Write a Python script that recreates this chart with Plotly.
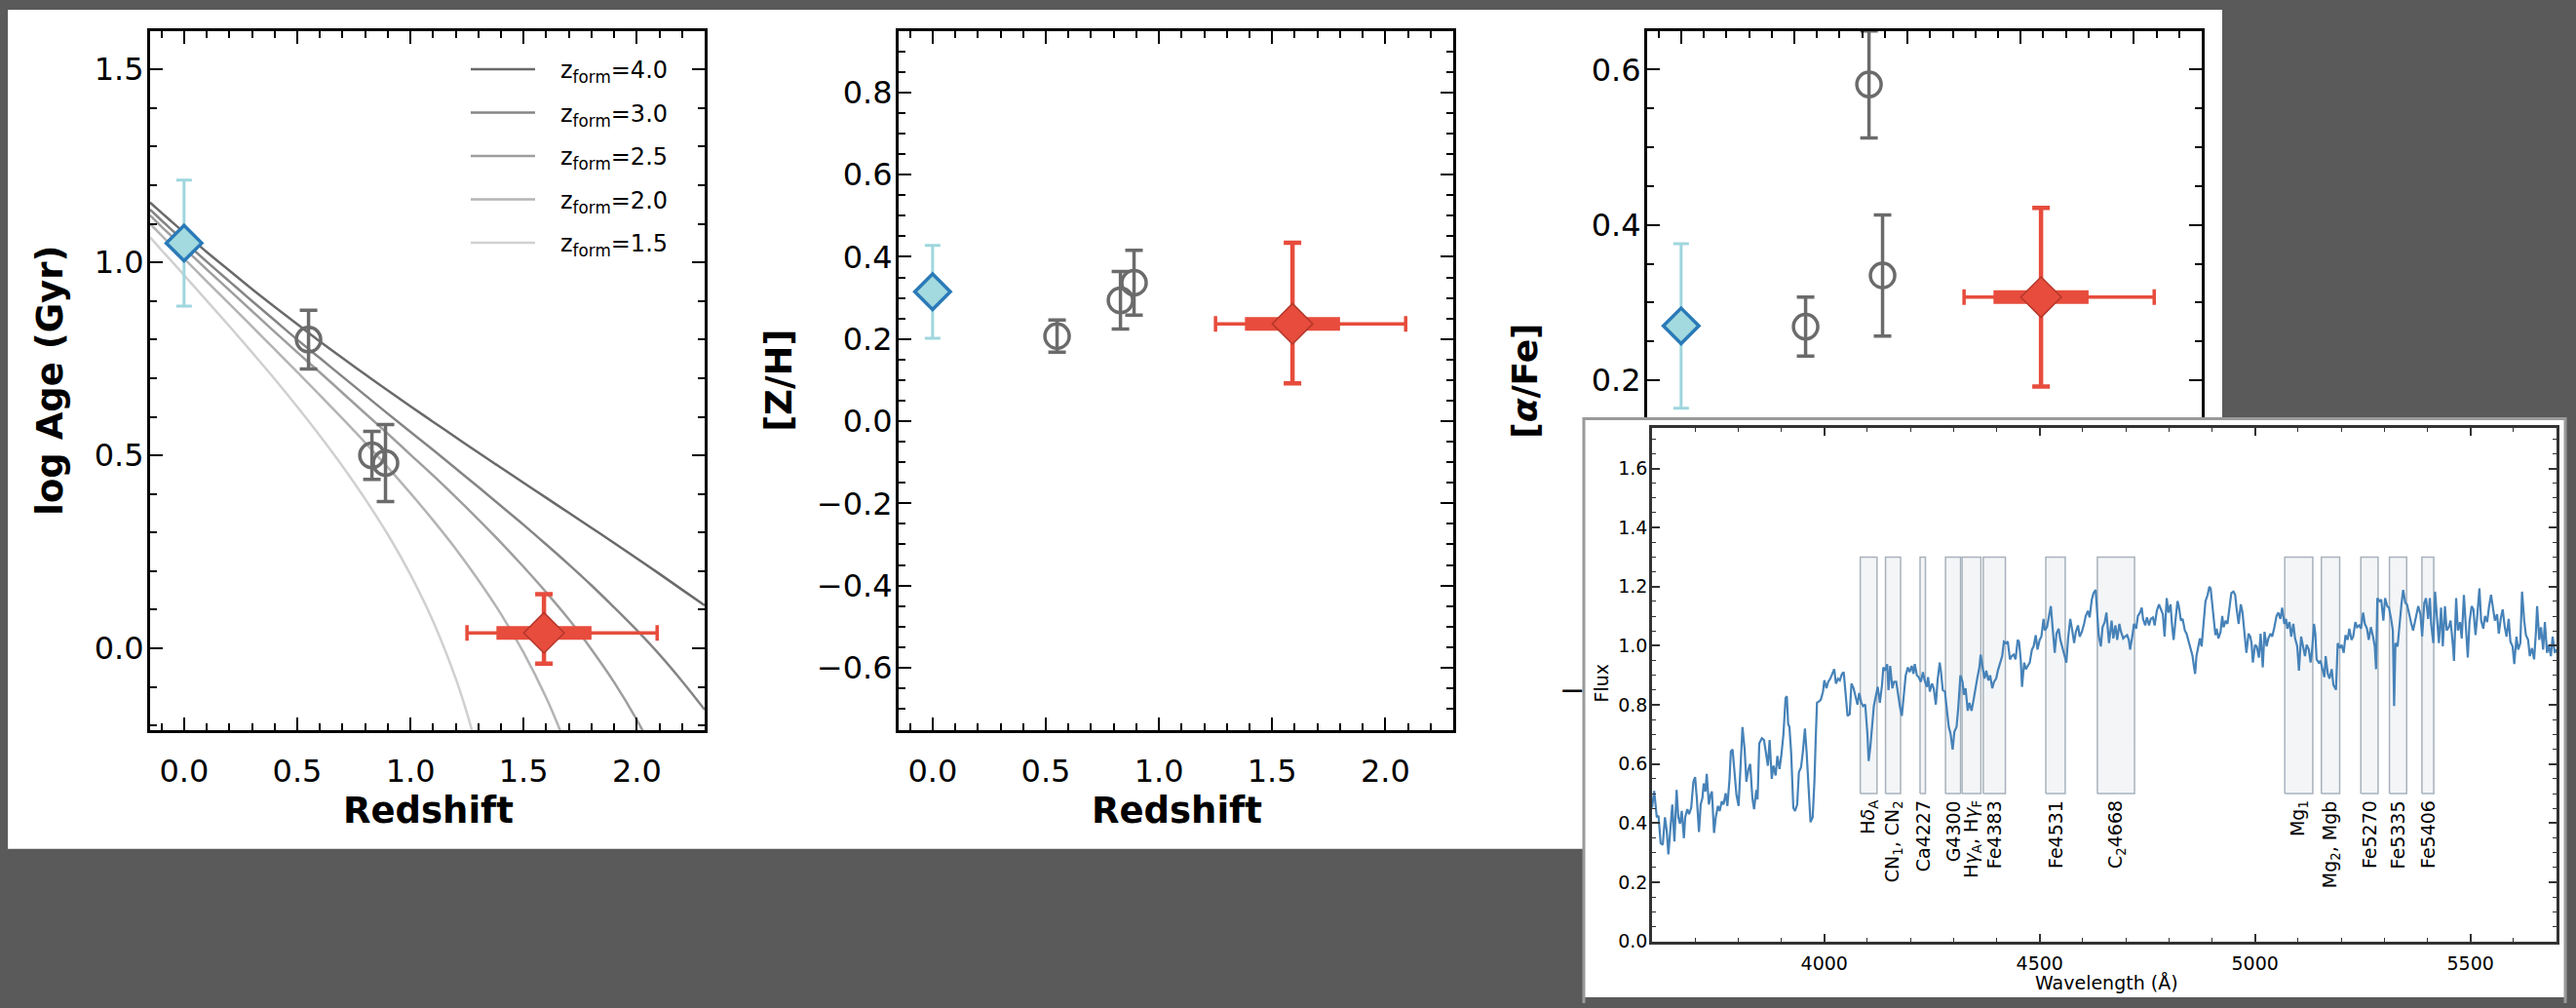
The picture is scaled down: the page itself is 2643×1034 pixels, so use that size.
import plotly.graph_objects as go

# ---------------- data ----------------
# model tracks: log age (Gyr) vs redshift for several formation redshifts
Z_MODEL = [-0.15, -0.10, -0.05, 0.00, 0.10, 0.20, 0.30, 0.40, 0.50, 0.60, 0.70, 0.80, 0.90,
           1.00, 1.10, 1.20, 1.30, 1.40, 1.50, 1.60, 1.70, 1.80, 1.90, 2.00, 2.10, 2.20, 2.30]
LOGAGE_ZF40 = [1.155, 1.129, 1.103, 1.078, 1.027, 0.979, 0.931, 0.885, 0.840, 0.795, 0.752, 0.710, 0.668,
               0.627, 0.587, 0.547, 0.507, 0.468, 0.429, 0.390, 0.351, 0.312, 0.273, 0.233, 0.193, 0.152, 0.111]
LOGAGE_ZF30 = [1.137, 1.109, 1.082, 1.055, 1.002, 0.951, 0.900, 0.850, 0.800, 0.752, 0.704, 0.656, 0.608,
               0.561, 0.514, 0.466, 0.418, 0.369, 0.320, 0.269, 0.217, 0.163, 0.106, 0.047, -0.016, -0.085, -0.159]
Z_ZF25 = Z_MODEL[:24] + [2.05]
LOGAGE_ZF25 = [1.122, 1.093, 1.065, 1.037, 0.982, 0.928, 0.874, 0.820, 0.767, 0.715, 0.662, 0.609, 0.556,
               0.502, 0.448, 0.392, 0.334, 0.274, 0.211, 0.145, 0.075, -0.003, -0.088, -0.185, -0.240]
Z_ZF20 = Z_MODEL[:20] + [1.65, 1.67]
LOGAGE_ZF20 = [1.100, 1.070, 1.040, 1.010, 0.951, 0.893, 0.834, 0.775, 0.716, 0.656, 0.595, 0.533, 0.469,
               0.402, 0.332, 0.258, 0.177, 0.089, -0.011, -0.128, -0.196, -0.226]
Z_ZF15 = Z_MODEL[:16] + [1.25, 1.28]
LOGAGE_ZF15 = [1.065, 1.032, 1.000, 0.967, 0.901, 0.835, 0.767, 0.698, 0.626, 0.551, 0.472, 0.387, 0.295,
               0.191, 0.070, -0.078, -0.168, -0.230]
ZFORM_LABELS = ["4.0", "3.0", "2.5", "2.0", "1.5"]

# local reference point (z = 0)
Z_LOCAL = [0.0]
LOCAL_AGE, LOCAL_AGE_ERR = [1.05], [0.163]
LOCAL_ZH, LOCAL_ZH_ERR = [0.315], [0.113]
LOCAL_AFE, LOCAL_AFE_ERR = [0.270], [0.106]

# intermediate-redshift literature points
Z_MID = [0.55, 0.83, 0.89]
MID_AGE, MID_AGE_ERR = [0.80, 0.50, 0.48], [0.076, 0.062, 0.100]
MID_ZH, MID_ZH_ERR = [0.207, 0.294, 0.337], [0.039, 0.070, 0.079]
MID_AFE, MID_AFE_ERR = [0.269, 0.581, 0.335], [0.038, 0.069, 0.078]

# high-redshift stack
Z_HIGH = [1.59]
Z_HIGH_ERR_PLUS, Z_HIGH_ERR_MINUS = [0.50], [0.34]
Z_HIGH_IQR = [0.21]
HIGH_AGE, HIGH_AGE_UP, HIGH_AGE_DN = [0.04], [0.10], [0.08]
HIGH_ZH, HIGH_ZH_UP, HIGH_ZH_DN = [0.237], [0.197], [0.145]
HIGH_AFE, HIGH_AFE_UP, HIGH_AFE_DN = [0.307], [0.115], [0.115]

# [alpha/Fe] axis tick values (lower ones hidden behind the inset)
AFE_TICKS = [-0.2, 0.0, 0.2, 0.4, 0.6]
AFE_TICK_TEXT = ["\u22120.2", "0.0", "0.2", "0.4", "0.6"]

# stacked spectrum (wavelength in Angstrom, normalised flux)
WAVELENGTH = [
    3600, 3605, 3611, 3615, 3620, 3625, 3630, 3634, 3638, 3643, 3647, 3652, 3657, 3661, 3665, 3669, 3674, 3677,
    3682, 3686, 3691, 3696, 3700, 3704, 3709, 3713, 3717, 3720, 3724, 3727, 3732, 3736, 3739, 3744, 3748, 3753,
    3757, 3762, 3766, 3771, 3775, 3780, 3783, 3787, 3792, 3796, 3801, 3806, 3810, 3815, 3819, 3824, 3828, 3833,
    3837, 3842, 3845, 3849, 3855, 3860, 3864, 3869, 3873, 3878, 3882, 3887, 3891, 3896, 3900, 3905, 3910, 3913,
    3916, 3919, 3923, 3928, 3932, 3937, 3941, 3946, 3950, 3955, 3959, 3964, 3968, 3973, 3977, 3980, 3983, 3988,
    3992, 3997, 4000, 4005, 4009, 4014, 4018, 4023, 4027, 4032, 4036, 4041, 4045, 4050, 4054, 4059, 4063, 4068,
    4072, 4077, 4081, 4086, 4090, 4095, 4100, 4103, 4107, 4112, 4115,
    4124, 4129, 4134, 4137, 4141, 4146, 4149, 4153, 4158, 4162, 4167, 4171, 4176, 4180, 4185, 4189, 4194, 4198,
    4203, 4207, 4210, 4215, 4219, 4224, 4229, 4233, 4238, 4241, 4245, 4250, 4254, 4259, 4263, 4268, 4271, 4275,
    4280, 4284, 4289, 4293, 4298, 4302, 4307, 4311, 4316, 4321, 4324, 4328, 4333, 4337, 4342, 4346, 4351, 4355,
    4360, 4363, 4367, 4372, 4376, 4381, 4385, 4390, 4394, 4399, 4403, 4408, 4413, 4417, 4422, 4426, 4431, 4435,
    4440, 4444, 4449, 4452, 4456, 4459, 4464, 4468, 4473, 4477, 4482, 4486, 4491, 4495, 4500, 4504, 4509, 4512,
    4517, 4521, 4526, 4530, 4535, 4539, 4544, 4548, 4553, 4557, 4562, 4566, 4571, 4575, 4580, 4584, 4589, 4593,
    4598, 4603, 4607, 4612, 4616, 4621, 4625, 4630, 4633, 4637, 4642, 4646, 4651, 4655,
    4661, 4667, 4671, 4676, 4680, 4685, 4689, 4694, 4698, 4703, 4707, 4710, 4715, 4719, 4724, 4728, 4733, 4737,
    4740, 4745, 4749, 4754, 4758, 4763, 4767, 4772, 4777, 4781, 4786, 4790, 4795, 4799, 4804, 4807, 4811, 4816,
    4820, 4823, 4828, 4832, 4837, 4841, 4846, 4850, 4855, 4858, 4861, 4864, 4869, 4872, 4876, 4879, 4882, 4885,
    4890, 4894, 4897, 4900, 4905, 4908, 4911, 4915, 4920, 4924, 4927, 4932, 4936, 4941, 4945, 4950, 4954, 4957,
    4962, 4967, 4971, 4976, 4980, 4985, 4989, 4992, 4995, 5000, 5004, 5009, 5013, 5018, 5022, 5027, 5031, 5036,
    5040, 5045, 5050, 5054, 5059, 5063, 5068, 5072, 5075, 5080, 5084, 5089, 5093, 5098, 5102, 5107, 5111, 5116,
    5120, 5125, 5129, 5132, 5137, 5140, 5143, 5148, 5152, 5157, 5161, 5164, 5169, 5173, 5178, 5182,
    5188, 5192, 5197, 5201, 5206, 5210, 5215, 5219, 5224, 5228, 5233, 5237, 5242, 5246, 5251, 5255, 5260, 5264,
    5269, 5274, 5278, 5281, 5284, 5289, 5293, 5298, 5302, 5307, 5311, 5316, 5320, 5323, 5326, 5331, 5335, 5340,
    5344, 5349, 5353, 5358, 5363, 5367, 5372, 5376, 5379, 5384, 5388, 5393, 5397, 5402, 5406, 5409, 5414, 5418,
    5423, 5427, 5432, 5436, 5441, 5445, 5450, 5454, 5459, 5462, 5467, 5471, 5476, 5480, 5485, 5489, 5494, 5498,
    5503, 5507, 5512, 5516, 5521, 5525, 5530, 5534, 5539, 5543, 5548, 5553, 5557, 5562, 5566, 5571, 5575, 5580,
    5584, 5589, 5593, 5598, 5602, 5607, 5611, 5616, 5620, 5625, 5629, 5634, 5638, 5643, 5648, 5652, 5655, 5660,
    5664, 5669, 5673, 5678, 5682, 5687, 5691, 5696, 5700,
]
FLUX = [
    0.452, 0.509, 0.420, 0.425, 0.332, 0.327, 0.420, 0.376, 0.294, 0.387, 0.463, 0.338, 0.512, 0.420, 0.398, 0.441,
    0.349, 0.420, 0.447, 0.430, 0.452, 0.540, 0.556, 0.485, 0.370, 0.463, 0.485, 0.534, 0.507, 0.567, 0.463, 0.496,
    0.507, 0.367, 0.420, 0.458, 0.441, 0.474, 0.463, 0.501, 0.458, 0.550, 0.643, 0.649, 0.550, 0.496, 0.458, 0.594,
    0.725, 0.649, 0.540, 0.583, 0.600, 0.485, 0.447, 0.512, 0.480, 0.670, 0.687, 0.681, 0.638, 0.594, 0.681, 0.550,
    0.594, 0.561, 0.627, 0.583, 0.627, 0.698, 0.823, 0.829, 0.736, 0.725, 0.638, 0.452, 0.441, 0.463, 0.572, 0.589,
    0.638, 0.720, 0.638, 0.507, 0.403, 0.420, 0.540, 0.681, 0.807, 0.812, 0.818, 0.845, 0.883, 0.856, 0.878, 0.889,
    0.905, 0.921, 0.872, 0.889, 0.883, 0.905, 0.911, 0.834, 0.763, 0.769, 0.872, 0.856, 0.834, 0.801, 0.840, 0.807,
    0.796, 0.801, 0.703, 0.610, 0.660, 0.747, 0.796,
    0.861, 0.807, 0.867, 0.927, 0.916, 0.938, 0.850, 0.932, 0.856, 0.878, 0.878, 0.834, 0.790, 0.763, 0.840, 0.900,
    0.927, 0.911, 0.932, 0.905, 0.938, 0.900, 0.894, 0.878, 0.911, 0.883, 0.861, 0.894, 0.845, 0.872, 0.856, 0.801,
    0.883, 0.943, 0.911, 0.850, 0.845, 0.790, 0.725, 0.703, 0.649, 0.709, 0.725, 0.790, 0.900, 0.878, 0.834, 0.856,
    0.780, 0.807, 0.780, 0.812, 0.861, 0.889, 0.927, 0.970, 0.932, 0.889, 0.916, 0.883, 0.900, 0.856, 0.878, 0.889,
    0.916, 0.943, 0.965, 1.014, 1.009, 1.014, 0.954, 0.965, 0.970, 0.954, 1.020, 1.014, 0.954, 0.861, 0.943, 0.921,
    0.932, 0.943, 0.987, 0.998, 1.036, 0.987, 1.020, 1.031, 1.091, 1.052, 1.063, 1.101, 1.134, 1.063, 0.976, 1.041,
    1.058, 1.020, 0.992, 0.976, 0.943, 1.025, 1.091, 1.058, 1.009, 1.047, 1.069, 1.031, 1.047, 1.074, 1.101, 1.118,
    1.096, 1.156, 1.178, 1.189, 1.134, 1.036, 0.998, 1.063, 1.080, 1.112,
    1.009, 1.085, 1.025, 1.069, 1.020, 1.074, 1.047, 1.025, 1.031, 1.036, 1.020, 0.987, 1.031, 1.074, 1.058, 1.101,
    1.112, 1.129, 1.091, 1.069, 1.096, 1.069, 1.091, 1.096, 1.069, 1.118, 1.140, 1.123, 1.107, 1.031, 1.161, 1.112,
    1.140, 1.074, 1.020, 1.096, 1.151, 1.134, 1.085, 1.091, 1.052, 1.041, 1.014, 0.987, 0.965, 0.932, 0.905, 0.965,
    1.009, 1.025, 0.998, 1.047, 1.118, 1.151, 1.172, 1.200, 1.194, 1.151, 1.074, 1.036, 1.058, 1.025, 1.047, 1.101,
    1.063, 1.085, 1.074, 1.140, 1.178, 1.183, 1.172, 1.129, 1.074, 1.140, 1.112, 1.036, 0.976, 1.041, 1.031, 1.009,
    0.943, 1.003, 0.998, 0.960, 1.041, 0.927, 1.047, 0.998, 1.025, 1.041, 1.031, 1.063, 1.101, 1.112, 1.091, 1.129,
    1.074, 1.091, 1.058, 1.080, 1.031, 1.074, 1.025, 0.998, 0.916, 1.031, 0.998, 0.965, 1.003, 0.987, 0.943, 0.976,
    1.074, 1.041, 0.954, 0.943, 0.949, 0.921, 0.894, 0.965, 0.905, 0.889, 0.921, 0.867,
    0.851, 1.009, 0.992, 1.003, 0.976, 1.036, 1.020, 1.058, 1.020, 1.031, 1.080, 1.063, 1.069, 1.058, 1.112, 1.074,
    1.058, 1.020, 1.063, 1.031, 0.998, 0.921, 1.161, 1.151, 1.156, 1.085, 1.161, 1.134, 1.129, 1.091, 1.052, 0.796,
    1.009, 0.998, 1.074, 1.140, 1.189, 1.145, 1.140, 1.101, 1.074, 1.052, 1.091, 1.118, 1.134, 1.107, 1.031, 1.145,
    1.161, 1.091, 1.161, 1.074, 1.009, 1.183, 1.085, 1.009, 1.129, 0.998, 1.134, 1.052, 1.063, 1.085, 1.009, 0.949,
    1.161, 1.052, 1.080, 1.025, 1.172, 1.074, 0.960, 1.080, 1.134, 1.123, 1.036, 1.101, 1.194, 1.085, 1.058, 1.101,
    1.080, 1.129, 1.172, 1.123, 1.085, 1.107, 1.041, 1.096, 1.123, 1.063, 1.031, 1.091, 1.014, 0.998, 0.938, 1.031,
    0.987, 1.009, 1.183, 1.085, 1.036, 1.020, 0.965, 0.992, 0.954, 1.041, 1.134, 1.020, 1.063, 0.987, 1.080, 0.976,
    1.003, 0.965, 1.031, 0.976, 0.987,
]

# Lick index bandpasses shown as boxes
BAND_LO = [4083.5, 4142.1, 4222.3, 4281.4, 4319.8, 4369.1, 4514.3, 4634.0, 5069.1, 5154.1, 5245.7, 5312.1, 5387.5]
BAND_HI = [4122.3, 4177.1, 4234.8, 4316.4, 4363.5, 4420.4, 4559.3, 4720.3, 5134.1, 5196.6, 5285.7, 5352.1, 5415.0]
BAND_LABELS = ["H<i>δ</i><sub>A</sub>", "CN<sub>1</sub>, CN<sub>2</sub>", "Ca4227", "G4300",
               "H<i>γ</i><sub>A</sub>, H<i>γ</i><sub>F</sub>", "Fe4383", "Fe4531", "C<sub>2</sub>4668",
               "Mg<sub>1</sub>", "Mg<sub>2</sub>, Mgb", "Fe5270", "Fe5335", "Fe5406"]
BAND_BOTTOM, BAND_TOP = 0.5, 1.3

# ---------------- styling / layout helpers ----------------
W, H = 2643, 1034
def fx(p): return p / W
def fy(p): return 1 - p / H

DARK_BG = "#5a5a5a"
GREY = "#6b6b6b"
BLUE_EDGE, BLUE_FILL, BLUE_ERR = "#2a7ab8", "#a3dadf", "#9fd6de"
RED, RED_EDGE = "#e74c3c", "#b5362a"
TRACK_COLORS = ["#6a6a6a", "#858585", "#9e9e9e", "#b4b4b4", "#d0d0d0"]
SPEC_BLUE = "#4682b8"
FONT = "DejaVu Sans"

fig = go.Figure()

# model tracks (panel 1)
tracks = [(Z_MODEL, LOGAGE_ZF40), (Z_MODEL, LOGAGE_ZF30), (Z_ZF25, LOGAGE_ZF25),
          (Z_ZF20, LOGAGE_ZF20), (Z_ZF15, LOGAGE_ZF15)]
for (zz, aa), col in zip(tracks, TRACK_COLORS):
    fig.add_trace(go.Scatter(x=zz, y=aa, mode="lines", line=dict(color=col, width=2.5, shape="spline"),
                             xaxis="x", yaxis="y", hoverinfo="skip", showlegend=False))

panels = [("x", "y", LOCAL_AGE, LOCAL_AGE_ERR, MID_AGE, MID_AGE_ERR, HIGH_AGE, HIGH_AGE_UP, HIGH_AGE_DN),
          ("x2", "y2", LOCAL_ZH, LOCAL_ZH_ERR, MID_ZH, MID_ZH_ERR, HIGH_ZH, HIGH_ZH_UP, HIGH_ZH_DN),
          ("x3", "y3", LOCAL_AFE, LOCAL_AFE_ERR, MID_AFE, MID_AFE_ERR, HIGH_AFE, HIGH_AFE_UP, HIGH_AFE_DN)]
for xa, ya, lv, le, mv, me, hv, hu, hd in panels:
    fig.add_trace(go.Scatter(
        x=Z_LOCAL, y=lv, mode="markers", xaxis=xa, yaxis=ya, showlegend=False,
        error_y=dict(type="data", array=le, color=BLUE_ERR, thickness=3, width=8),
        marker=dict(symbol="diamond", size=28, color=BLUE_FILL, line=dict(color=BLUE_EDGE, width=3.5))))
    fig.add_trace(go.Scatter(
        x=Z_MID, y=mv, mode="markers", xaxis=xa, yaxis=ya, showlegend=False,
        error_y=dict(type="data", array=me, color=GREY, thickness=3.5, width=9),
        marker=dict(symbol="circle", size=25, color="rgba(0,0,0,0)", line=dict(color=GREY, width=3.5))))
    fig.add_trace(go.Scatter(
        x=Z_HIGH, y=hv, mode="markers", xaxis=xa, yaxis=ya, showlegend=False,
        marker=dict(size=2, color="rgba(0,0,0,0)"),
        error_x=dict(type="data", symmetric=False, array=Z_HIGH_ERR_PLUS, arrayminus=Z_HIGH_ERR_MINUS,
                     color=RED, thickness=3.5, width=8),
        error_y=dict(type="data", symmetric=False, array=hu, arrayminus=hd, color=RED, thickness=4.5, width=9)))
    fig.add_trace(go.Scatter(
        x=Z_HIGH, y=hv, mode="markers", xaxis=xa, yaxis=ya, showlegend=False,
        error_x=dict(type="data", array=Z_HIGH_IQR, color=RED, thickness=14, width=0),
        marker=dict(symbol="diamond", size=32, color=RED, line=dict(color=RED_EDGE, width=1.5))))

# cover panel for the inset (opaque white background)
fig.add_trace(go.Scatter(x=[0.5], y=[0.5], mode="markers", marker=dict(opacity=0), xaxis="x4", yaxis="y4",
                         hoverinfo="skip", showlegend=False))

# inset: index boxes then spectrum
for lo, hi in zip(BAND_LO, BAND_HI):
    fig.add_trace(go.Scatter(x=[lo, hi, hi, lo, lo], y=[BAND_BOTTOM, BAND_BOTTOM, BAND_TOP, BAND_TOP, BAND_BOTTOM],
                             mode="lines", fill="toself", fillcolor="#f3f5f7",
                             line=dict(color="#a8b2bc", width=1.5), xaxis="x5", yaxis="y5",
                             hoverinfo="skip", showlegend=False))
fig.add_trace(go.Scatter(x=WAVELENGTH, y=FLUX, mode="lines", line=dict(color=SPEC_BLUE, width=2.2),
                         xaxis="x5", yaxis="y5", showlegend=False))

# ---------------- axes ----------------
def main_axis(domain, rng, dtick, minor, anchor, fsize=32, standoff=8, labels=True):
    return dict(domain=domain, range=rng, anchor=anchor, dtick=dtick, tick0=0, tickformat=".1f",
                showline=True, linecolor="black", linewidth=3, mirror="allticks",
                ticks="inside", ticklen=13, tickwidth=2, tickcolor="black",
                minor=dict(dtick=minor, tick0=0, ticks="inside", ticklen=7, tickwidth=2, tickcolor="black"),
                showgrid=False, zeroline=False, showticklabels=labels, ticklabelstandoff=standoff,
                tickfont=dict(family=FONT, size=fsize, color="black"), fixedrange=True)

P1X, P2X, P3X = [fx(154), fx(723)], [fx(922), fx(1491)], [fx(1690), fx(2259)]
PY = [fy(757), fy(32)]

yaxis3 = main_axis(PY, [-0.2506, 0.650], 0.2, 0.05, "x3", standoff=-3)
yaxis3.update(tickmode="array", tickvals=AFE_TICKS[2:], ticktext=AFE_TICK_TEXT[2:])

fig.update_layout(
    xaxis=main_axis(P1X, [-0.15, 2.3], 0.5, 0.1, "y", standoff=12),
    yaxis=main_axis(PY, [-0.212, 1.6], 0.5, 0.1, "x", standoff=-3),
    xaxis2=main_axis(P2X, [-0.15, 2.3], 0.5, 0.1, "y2", standoff=12),
    yaxis2=main_axis(PY, [-0.752, 0.95], 0.2, 0.05, "x2", standoff=-3),
    xaxis3=main_axis(P3X, [-0.15, 2.3], 0.5, 0.1, "y3", labels=False),
    yaxis3=yaxis3,
    xaxis4=dict(domain=[fx(1624), fx(2633)], range=[0, 1], anchor="y4", visible=False, fixedrange=True),
    yaxis4=dict(domain=[0, fy(433)], range=[0, 1], anchor="x4", visible=False, fixedrange=True),
    xaxis5=dict(domain=[fx(1695), fx(2623)], range=[3600, 5700], anchor="y5", dtick=500, tick0=0,
                showline=True, linecolor="#333333", linewidth=2.5, mirror="allticks",
                ticks="inside", ticklen=8, tickwidth=1.5, tickcolor="#333333",
                minor=dict(dtick=100, ticks="inside", ticklen=4, tickwidth=1.2, tickcolor="#333333"),
                showgrid=False, zeroline=False, ticklabelstandoff=4,
                tickfont=dict(family=FONT, size=19, color="black"), fixedrange=True),
    yaxis5=dict(domain=[fy(976), fy(444)], range=[0, 1.736], anchor="x5", dtick=0.2, tick0=0, tickformat=".1f",
                showline=True, linecolor="#333333", linewidth=2.5, mirror="allticks",
                ticks="inside", ticklen=8, tickwidth=1.5, tickcolor="#333333",
                minor=dict(dtick=0.05, tick0=0, ticks="inside", ticklen=4, tickwidth=1.2, tickcolor="#333333"),
                showgrid=False, zeroline=False, ticklabelstandoff=-2,
                tickfont=dict(family=FONT, size=19, color="black"), fixedrange=True),
)

# ---------------- shapes ----------------
shapes = [
    dict(type="rect", xref="paper", yref="paper", x0=fx(8), x1=fx(2280), y0=fy(880), y1=fy(10),
         fillcolor="white", line=dict(width=0), layer="below"),
    dict(type="path", xref="paper", yref="paper", layer="above",
         path=f"M {fx(1625)} {fy(1040)} L {fx(1625)} {fy(434)} L {fx(2632)} {fy(434)} L {fx(2632)} {fy(1040)}",
         line=dict(color="#9a9a9a", width=3)),
]
LEG_ROWS = [71.7, 116.7, 161.7, 206.7, 251.7]
for r, col in zip(LEG_ROWS, TRACK_COLORS):
    shapes.append(dict(type="line", xref="paper", yref="paper", x0=fx(483), x1=fx(549), y0=fy(r), y1=fy(r),
                       line=dict(color=col, width=2.5), layer="above"))
fig.update_layout(shapes=shapes)

# ---------------- annotations ----------------
ann = []
def txt(x, y, s, size, angle=0, xanchor="center", yanchor="middle", **kw):
    ann.append(dict(x=x, y=y, xref=kw.pop("xref", "paper"), yref=kw.pop("yref", "paper"), text=s,
                    showarrow=False, textangle=angle, xanchor=xanchor, yanchor=yanchor,
                    font=dict(family=FONT, size=size, color="black"), **kw))

txt(fx(52), fy(395), "<b>log Age (Gyr)</b>", 37, -90)
txt(fx(439), fy(840), "<b>Redshift</b>", 37)
txt(fx(800), fy(395), "<b>[Z/H]</b>", 37, -90)
txt(fx(1207), fy(840), "<b>Redshift</b>", 37)
txt(fx(1565), fy(395), "<b>[<i>α</i>/Fe]</b>", 36, -90)
# visible sliver of the (otherwise hidden) lowest [alpha/Fe] tick label, left of the inset
txt(fx(1613), fy(716), AFE_TICK_TEXT[0][0], 32)
txt(fx(1643), fy(708), "Flux", 19, -90)
txt(fx(2161), fy(1019), "Wavelength (Å)", 19)
for r, lab in zip(LEG_ROWS, ZFORM_LABELS):
    txt(fx(573), fy(r + 3), f"z<sub>form</sub>={lab}", 24, xanchor="left")
for lo, hi, lab in zip(BAND_LO, BAND_HI, BAND_LABELS):
    txt((lo + hi) / 2, BAND_BOTTOM, lab, 19, -90, yanchor="top", xref="x5", yref="y5", yshift=-5)
fig.update_layout(annotations=ann)

fig.update_layout(width=W, height=H, autosize=False, margin=dict(l=0, r=0, t=0, b=0, pad=0),
                  paper_bgcolor=DARK_BG, plot_bgcolor="white", showlegend=False,
                  font=dict(family=FONT, color="black"))

fig.write_html("out.html")
